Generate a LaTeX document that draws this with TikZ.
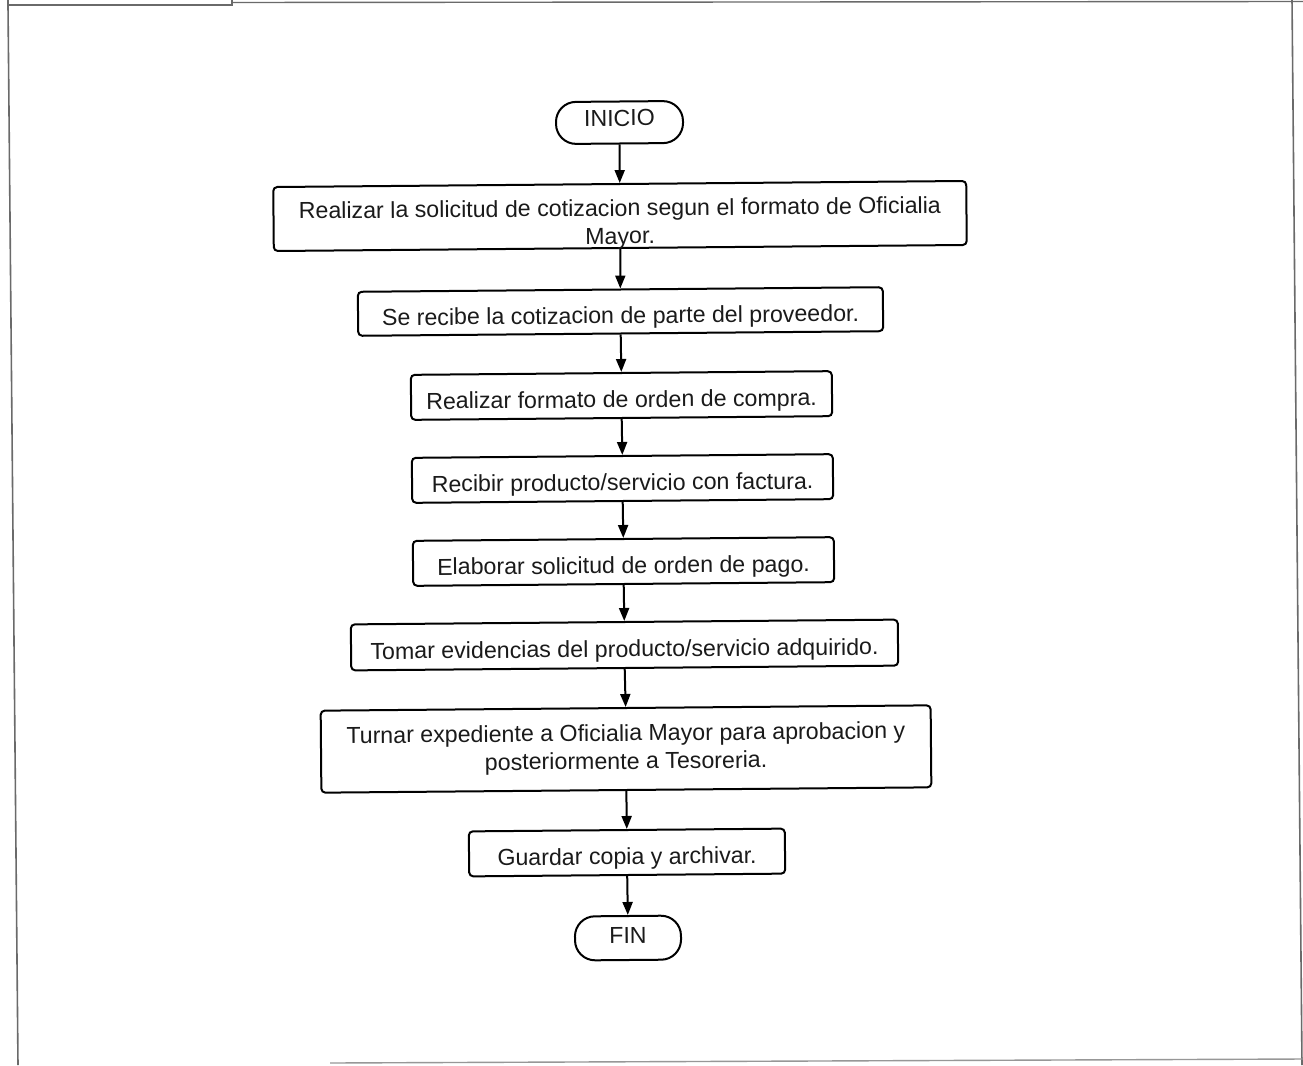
\documentclass[tikz,border=0pt]{standalone}
\usepackage{fontspec}
\setmainfont{Liberation Sans}
\usetikzlibrary{arrows.meta}
\definecolor{ink}{HTML}{1A1A1A}
\definecolor{framegray}{HTML}{6A6A6A}
\begin{document}
\begin{tikzpicture}[x=1pt,y=-1pt,
  every node/.style={font=\fontsize{23.2}{28}\selectfont, text=ink},
  stepbox/.style={draw=black, line width=2pt, rounded corners=4pt, rectangle, rotate=0.5, inner sep=0pt},
  oneline/.style={stepbox, text height=24pt, text depth=0pt},
  endcap/.style={draw=black, line width=2pt, rounded corners=20pt, rectangle, rotate=0.5, inner sep=0pt, text depth=0pt},
  flow/.style={draw=black, line width=2pt, -{Triangle[length=13pt,width=10pt]}}
]
% page
\useasboundingbox (0,0) rectangle (1303,1065);
\fill[white] (0,0) rectangle (1303,1065);

% scanned page frame
\draw[framegray, line width=1.6pt] (8,-2) rectangle (232,5);
\draw[framegray, line width=1.4pt] (232,2.5) -- (1303,1.5);
\draw[framegray, line width=1.6pt] (8,5) -- (18,1065);
\draw[framegray, line width=1.6pt] (1292,0) -- (1302,1065);
\draw[framegray!70, line width=1.4pt] (330,1063) -- (1303,1059);

% steps
\node[endcap, text height=7pt, minimum width=127pt, minimum height=42pt] (inicio) at (619.5,122.5) {INICIO};
\node[stepbox, minimum width=693pt, minimum height=64pt] (s1) at (620,216) {};
\node[rotate=0.5, align=center] (s1t) at (620,224) {Realizar la solicitud de cotizacion segun el formato de Oficialia\\Mayor.};
\node[oneline, minimum width=525pt, minimum height=44pt] (s2) at (620.5,311.5) {Se recibe la cotizacion de parte del proveedor.};
\node[oneline, minimum width=421pt, minimum height=45pt] (s3) at (621.5,395.5) {Realizar formato de orden de compra.};
\node[oneline, minimum width=421pt, minimum height=45pt] (s4) at (622.5,478.5) {Recibir producto/servicio con factura.};
\node[oneline, minimum width=421pt, minimum height=45pt] (s5) at (623.5,561.5) {Elaborar solicitud de orden de pago.};
\node[oneline, minimum width=547pt, minimum height=46pt] (s6) at (624.5,645) {Tomar evidencias del producto/servicio adquirido.};
\node[stepbox, minimum width=610pt, minimum height=82pt] (s7) at (626,749) {};
\node[rotate=0.5, align=center] (s7t) at (626,749) {Turnar expediente a Oficialia Mayor para aprobacion y\\posteriormente a Tesoreria.};
\node[oneline, minimum width=316pt, minimum height=45pt] (s8) at (627,852.5) {Guardar copia y archivar.};
\node[endcap, text height=11pt, minimum width=106pt, minimum height=44pt] (fin) at (628,938) {FIN};

% connectors
\draw[flow] (inicio.south) -- (s1.north);
\draw[flow] (s1.south) -- (s2.north);
\draw[flow] (s2.south) -- (s3.north);
\draw[flow] (s3.south) -- (s4.north);
\draw[flow] (s4.south) -- (s5.north);
\draw[flow] (s5.south) -- (s6.north);
\draw[flow] (s6.south) -- (s7.north);
\draw[flow] (s7.south) -- (s8.north);
\draw[flow] (s8.south) -- (fin.north);
\end{tikzpicture}
\end{document}
